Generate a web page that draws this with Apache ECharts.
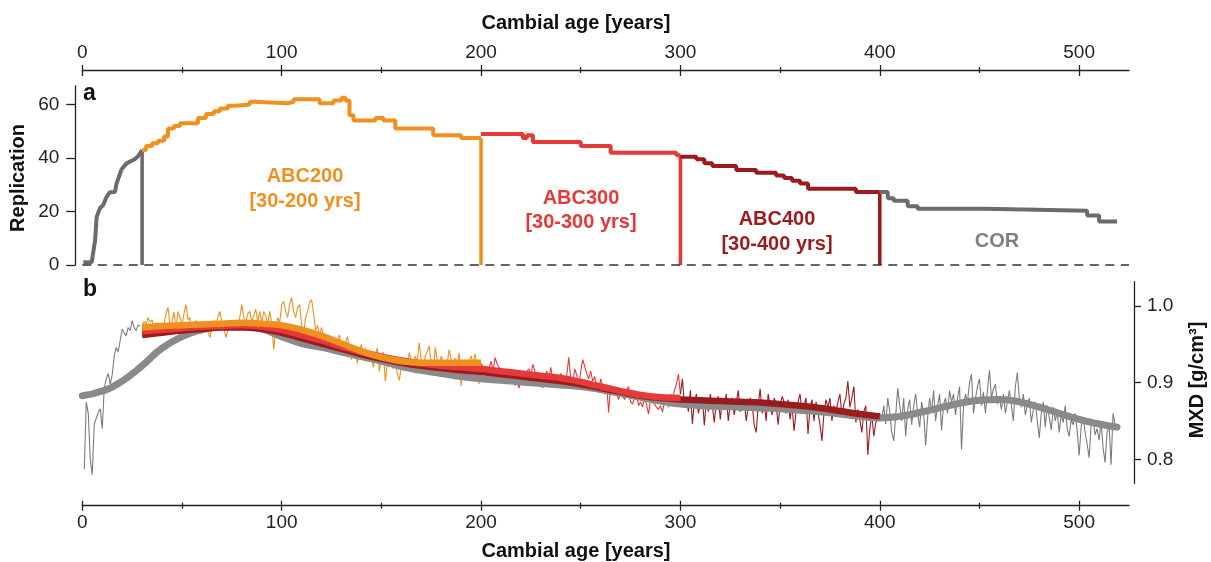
<!DOCTYPE html>
<html><head><meta charset="utf-8">
<script src="https://cdn.jsdelivr.net/npm/echarts@6/dist/echarts.min.js"></script>
<style>html,body{margin:0;padding:0;background:#fff}#c{width:1211px;height:562px}</style>
</head><body><div id="c"></div>
<script>
// ---------- tick labels ----------
const xMajorTicks = [0, 100, 200, 300, 400, 500];
const xMinorTicks = [50, 150, 250, 350, 450];
const repTicks = [0, 20, 40, 60];
const mxdTicks = [0.8, 0.9, 1.0];

// ---------- panel a: replication ----------
const corRepAYears = [0.5, 4.7, 6.4, 7.2, 8.9, 10.5, 12.2, 13.8, 16.4, 17.2, 19.7, 22.2, 24.7, 26.4, 28, 30];
const corRepAValues = [1, 1, 9, 18, 21.3, 22.4, 25.5, 27.2, 27.3, 30.5, 35.8, 38, 39, 39.6, 40.7, 43];
const abc200RepYears = [30, 32, 35, 38, 41, 43, 46, 49, 58, 62, 66, 69, 73, 77, 84, 86, 103, 106, 119, 121, 126, 130, 132, 134, 136, 147, 151, 157, 176, 190, 200];
const abc200RepValues = [43, 44.5, 45.5, 46.5, 48, 51, 52, 53, 55, 56.5, 57.5, 58.5, 59.5, 60, 61, 60.5, 61, 62, 60.5, 60.5, 61.5, 62.5, 61.5, 56, 54, 55, 54, 51, 48.5, 47.5, 47.5];
const abc300RepYears = [200, 221, 223, 226, 250, 265, 298, 300];
const abc300RepValues = [49, 47.5, 48.5, 46, 44.5, 42, 41, 41];
const abc400RepYears = [300, 308, 312, 316, 328, 338, 348, 352, 356, 360, 364, 388, 400];
const abc400RepValues = [40.5, 39.5, 38, 37, 35.5, 34.5, 33.5, 32.5, 31.5, 30.5, 28.5, 27.3, 27.3];
const corRepBYears = [400, 404, 407, 414, 419, 453, 504, 510, 519];
const corRepBValues = [27.3, 25, 24, 22, 21, 20.3, 18.5, 16.3, 16.3];

// ---------- panel b: MXD raw series (one value per year) ----------
const corRawEarlyStart = 1;
const corRawEarly = [0.787, 0.875, 0.860, 0.800, 0.780, 0.846, 0.848, 0.861, 0.866, 0.840,
  0.893, 0.905, 0.912, 0.898, 0.910, 0.935, 0.946, 0.940, 0.955, 0.970,
  0.965, 0.961, 0.972, 0.968, 0.981, 0.972, 0.968, 0.975, 0.974];
const abc200RawStart = 30;
const abc200Raw = [0.972, 0.980, 0.976, 0.985, 0.979, 0.982, 0.970, 0.978, 0.966, 0.974,
  0.963, 0.978, 0.990, 0.998, 0.975, 0.980, 0.992, 0.970, 0.993, 0.985,
  0.976, 0.990, 1.002, 0.982, 0.985, 0.963, 0.978, 0.981, 0.970, 0.980,
  0.975, 0.968, 0.974, 0.966, 0.959, 0.972, 0.981, 0.974, 0.985, 0.993,
  0.978, 0.972, 0.959, 0.968, 0.975, 0.980, 0.972, 0.968, 0.974, 0.985,
  1.002, 0.985, 0.978, 0.990, 0.993, 0.980, 0.987, 0.996, 0.980, 0.993,
  0.978, 0.993, 0.987, 0.975, 0.993, 0.978, 0.943, 0.970, 0.985, 0.978,
  1.002, 1.006, 0.993, 0.985, 1.002, 1.011, 0.993, 0.985, 0.998, 1.002,
  0.976, 0.963, 0.985, 0.993, 1.005, 1.008, 0.990, 0.968, 0.975, 0.960,
  0.972, 0.960, 0.948, 0.955, 0.962, 0.950, 0.958, 0.940, 0.955, 0.962,
  0.948, 0.935, 0.952, 0.960, 0.944, 0.930, 0.948, 0.938, 0.925, 0.942,
  0.950, 0.935, 0.945, 0.928, 0.940, 0.932, 0.920, 0.938, 0.945, 0.915,
  0.930, 0.940, 0.902, 0.925, 0.935, 0.928, 0.918, 0.930, 0.912, 0.903,
  0.920, 0.930, 0.925, 0.918, 0.939, 0.930, 0.922, 0.935, 0.928, 0.952,
  0.930, 0.920, 0.935, 0.940, 0.948, 0.925, 0.911, 0.946, 0.930, 0.920,
  0.935, 0.928, 0.915, 0.925, 0.943, 0.930, 0.920, 0.932, 0.925, 0.939,
  0.896, 0.920, 0.930, 0.918, 0.928, 0.935, 0.925, 0.938, 0.920, 0.898,
  0.925];
const abc300RawStart = 200;
const abc300Raw = [0.925, 0.924, 0.915, 0.906, 0.918, 0.928, 0.915, 0.933, 0.925, 0.920,
  0.905, 0.912, 0.898, 0.908, 0.915, 0.902, 0.910, 0.896, 0.905, 0.893,
  0.905, 0.910, 0.900, 0.915, 0.918, 0.910, 0.924, 0.915, 0.905, 0.912,
  0.900, 0.893, 0.908, 0.915, 0.905, 0.920, 0.900, 0.910, 0.898, 0.905,
  0.912, 0.905, 0.895, 0.910, 0.933, 0.905, 0.900, 0.918, 0.910, 0.895,
  0.915, 0.930, 0.930, 0.912, 0.905, 0.915, 0.902, 0.908, 0.895, 0.890,
  0.905, 0.895, 0.885, 0.898, 0.861, 0.896, 0.890, 0.893, 0.885, 0.878,
  0.888, 0.882, 0.878, 0.890, 0.895, 0.875, 0.872, 0.880, 0.885, 0.870,
  0.875, 0.868, 0.880, 0.872, 0.859, 0.878, 0.880, 0.872, 0.868, 0.865,
  0.870, 0.862, 0.875, 0.880, 0.868, 0.885, 0.878, 0.890, 0.898, 0.911,
  0.885];
const abc400RawStart = 300;
const abc400Raw = [0.885, 0.905, 0.870, 0.880, 0.862, 0.890, 0.846, 0.875, 0.885, 0.860,
  0.872, 0.880, 0.844, 0.878, 0.862, 0.885, 0.870, 0.848, 0.875, 0.882,
  0.852, 0.878, 0.870, 0.885, 0.850, 0.872, 0.880, 0.858, 0.874, 0.890,
  0.862, 0.870, 0.878, 0.850, 0.868, 0.880, 0.872, 0.845, 0.835, 0.870,
  0.892, 0.860, 0.875, 0.850, 0.885, 0.870, 0.858, 0.880, 0.872, 0.845,
  0.870, 0.882, 0.875, 0.860, 0.878, 0.852, 0.870, 0.837, 0.862, 0.875,
  0.885, 0.862, 0.870, 0.880, 0.833, 0.868, 0.878, 0.850, 0.875, 0.862,
  0.845, 0.824, 0.860, 0.878, 0.868, 0.880, 0.850, 0.870, 0.862, 0.875,
  0.885, 0.858, 0.872, 0.880, 0.902, 0.868, 0.880, 0.895, 0.848, 0.865,
  0.852, 0.835, 0.862, 0.870, 0.806, 0.840, 0.858, 0.830, 0.848, 0.850,
  0.860];
const corRawLateStart = 400;
const corRawLate = [0.860, 0.852, 0.870, 0.846, 0.880, 0.862, 0.835, 0.824, 0.858, 0.893,
  0.870, 0.850, 0.880, 0.830, 0.865, 0.878, 0.845, 0.870, 0.885, 0.860,
  0.842, 0.875, 0.860, 0.818, 0.855, 0.880, 0.862, 0.890, 0.850, 0.870,
  0.885, 0.838, 0.872, 0.880, 0.860, 0.890, 0.875, 0.885, 0.858, 0.880,
  0.895, 0.813, 0.870, 0.885, 0.875, 0.900, 0.911, 0.860, 0.880, 0.895,
  0.905, 0.870, 0.888, 0.860, 0.890, 0.916, 0.880, 0.892, 0.898, 0.872,
  0.880, 0.865, 0.885, 0.860, 0.875, 0.890, 0.870, 0.850, 0.895, 0.913,
  0.880, 0.868, 0.885, 0.858, 0.870, 0.880, 0.848, 0.865, 0.875, 0.850,
  0.828, 0.860, 0.875, 0.842, 0.870, 0.855, 0.838, 0.868, 0.850, 0.862,
  0.835, 0.858, 0.848, 0.870, 0.840, 0.830, 0.852, 0.845, 0.860, 0.838,
  0.805, 0.842, 0.855, 0.835, 0.820, 0.802, 0.845, 0.850, 0.832, 0.840,
  0.825, 0.848, 0.815, 0.796, 0.835, 0.845, 0.793, 0.860, 0.845, 0.838];

// ---------- panel b: smoothed curves ----------
const corFitYears = [0, 10, 20, 30, 40, 50, 60, 70, 80, 90, 100, 110, 120, 130, 140, 150, 160, 170, 180, 190, 200, 210, 220, 230, 240, 250, 260, 270, 280, 290, 300, 310, 320, 330, 340, 350, 360, 370, 380, 390, 400, 410, 420, 430, 440, 450, 460, 470, 480, 490, 500, 510, 519];
const corFit = [0.883, 0.889, 0.902, 0.922, 0.945, 0.960, 0.969, 0.974, 0.975, 0.970, 0.960, 0.951, 0.946, 0.940, 0.934, 0.928, 0.921, 0.916, 0.912, 0.908, 0.905, 0.903, 0.901, 0.899, 0.897, 0.895, 0.891, 0.886, 0.881, 0.876, 0.872, 0.870, 0.869, 0.868, 0.867, 0.866, 0.864, 0.862, 0.859, 0.856, 0.854, 0.856, 0.861, 0.867, 0.873, 0.877, 0.878, 0.875, 0.868, 0.860, 0.852, 0.846, 0.842];
const abc400FitYears = [30, 40, 50, 60, 70, 80, 90, 100, 110, 120, 130, 140, 150, 160, 170, 180, 190, 200, 210, 220, 230, 240, 250, 260, 270, 280, 290, 300, 310, 320, 330, 340, 350, 360, 370, 380, 390, 400];
const abc400Fit = [0.962, 0.965, 0.968, 0.970, 0.972, 0.972, 0.970, 0.965, 0.958, 0.951, 0.944, 0.937, 0.931, 0.926, 0.922, 0.919, 0.916, 0.914, 0.911, 0.908, 0.905, 0.902, 0.898, 0.893, 0.888, 0.883, 0.880, 0.878, 0.877, 0.876, 0.875, 0.874, 0.872, 0.870, 0.867, 0.863, 0.859, 0.856];
const abc300FitYears = [30, 40, 50, 60, 70, 80, 90, 100, 110, 120, 130, 140, 150, 160, 170, 180, 190, 200, 210, 220, 230, 240, 250, 260, 270, 280, 290, 300];
const abc300Fit = [0.967, 0.969, 0.971, 0.973, 0.974, 0.975, 0.973, 0.969, 0.962, 0.955, 0.947, 0.940, 0.934, 0.929, 0.925, 0.922, 0.920, 0.918, 0.915, 0.912, 0.909, 0.906, 0.901, 0.895, 0.889, 0.884, 0.881, 0.880];
const abc200FitYears = [30, 40, 50, 60, 70, 80, 90, 100, 110, 120, 130, 140, 150, 160, 170, 180, 190, 200];
const abc200Fit = [0.972, 0.974, 0.975, 0.976, 0.977, 0.978, 0.977, 0.975, 0.969, 0.961, 0.951, 0.941, 0.933, 0.928, 0.926, 0.926, 0.926, 0.926];

// ---------- styling ----------
const FONT = "'Liberation Sans', Arial, Helvetica, sans-serif";
const AX = '#222222';
const C_GRAY = '#6b6b6b';
const C_OR = '#f0901e';
const C_RED = '#e63a3a';
const C_DRED = '#9b1b1e';
const C_GRAY_FIT = '#8a8a8a';
const C_GRAY_RAW = '#7c7c7c';

const G0 = {left: 82.3, top: 85.8, width: 1046.7, height: 179.2};
const G1 = {left: 82.3, top: 281.7, width: 1046.7, height: 201.6};

function pairs(xs, ys) { return xs.map((x, i) => [x, ys[i]]); }
function yearly(start, vals) { return vals.map((v, i) => [start + i, v]); }

function xAxes(gridIndex, position, offset, outLen, inLen) {
  const base = {type: 'value', gridIndex, position, offset, min: 0, max: 525,
    splitLine: {show: false}, axisLine: {show: false, onZero: false},
    axisLabel: {show: false}, axisTick: {show: false}};
  const ls = {color: AX, width: 1.3};
  return [
    Object.assign({}, base, {
      axisLine: {show: true, onZero: false, lineStyle: ls},
      axisTick: {show: true, inside: false, length: outLen, customValues: xMajorTicks, lineStyle: ls},
      axisLabel: {show: true, customValues: xMajorTicks, fontSize: 19, color: AX, fontFamily: FONT, margin: 8}
    }),
    Object.assign({}, base, {axisTick: {show: true, inside: true, length: inLen, customValues: xMajorTicks, lineStyle: ls}}),
    Object.assign({}, base, {axisTick: {show: true, inside: false, length: 3, customValues: xMinorTicks, lineStyle: ls}}),
    Object.assign({}, base, {axisTick: {show: true, inside: true, length: 3, customValues: xMinorTicks, lineStyle: ls}})
  ];
}

const xAxis = [].concat(xAxes(0, 'top', 85.8 - 70, 5, 6), xAxes(1, 'bottom', 505.7 - 483.3, 5, 5));

const yAxis = [
  {type: 'value', gridIndex: 0, position: 'left', offset: 7, min: 0, max: 67,
    splitLine: {show: false},
    axisLine: {show: true, onZero: false, lineStyle: {color: AX, width: 1.3}},
    axisTick: {show: true, length: 9, customValues: repTicks, lineStyle: {color: AX, width: 1.3}},
    axisLabel: {customValues: repTicks, fontSize: 19, color: AX, fontFamily: FONT, margin: 16}},
  {type: 'value', gridIndex: 1, position: 'right', offset: 5, min: 0.7687, max: 1.0317,
    splitLine: {show: false},
    axisLine: {show: true, onZero: false, lineStyle: {color: AX, width: 1.3}},
    axisTick: {show: true, length: 7, customValues: mxdTicks, lineStyle: {color: AX, width: 1.3}},
    axisLabel: {customValues: mxdTicks, fontSize: 19, color: AX, fontFamily: FONT, margin: 13,
      formatter: v => v.toFixed(1)}}
];

function stepLine(xs, ys, color, noStep) {
  return {type: 'line', xAxisIndex: 0, yAxisIndex: 0, step: noStep ? false : 'end', symbol: 'none',
    data: pairs(xs, ys), lineStyle: {color, width: 4}, z: 3};
}
function vLine(xs, ys, color) {
  const x = xs[xs.length - 1], top = ys[ys.length - 1];
  return {type: 'line', xAxisIndex: 0, yAxisIndex: 0, symbol: 'none',
    data: [[x, 0], [x, top]], lineStyle: {color, width: 3.6}, z: 3};
}
function rawLine(start, vals, color) {
  return {type: 'line', xAxisIndex: 4, yAxisIndex: 1, symbol: 'none',
    data: yearly(start, vals), lineStyle: {color, width: 1.1}, z: 2};
}
function fitLine(xs, ys, color, width, cap) {
  return {type: 'line', xAxisIndex: 4, yAxisIndex: 1, symbol: 'none', smooth: 0.5,
    data: pairs(xs, ys), lineStyle: {color, width, cap: cap || 'butt'}, z: 4};
}

const series = [
  {type: 'line', xAxisIndex: 0, yAxisIndex: 0, symbol: 'none', data: [],
    markLine: {symbol: 'none', silent: true, animation: false, label: {show: false},
      lineStyle: {type: [9, 6.5], color: '#333', width: 1.5}, data: [{yAxis: 0}]}},
  stepLine(corRepAYears, corRepAValues, C_GRAY, true),
  vLine(corRepAYears, corRepAValues, C_GRAY),
  stepLine(abc200RepYears, abc200RepValues, C_OR),
  vLine(abc200RepYears, abc200RepValues, C_OR),
  stepLine(abc300RepYears, abc300RepValues, C_RED),
  vLine(abc300RepYears, abc300RepValues, C_RED),
  stepLine(abc400RepYears, abc400RepValues, C_DRED),
  vLine(abc400RepYears, abc400RepValues, C_DRED),
  stepLine(corRepBYears, corRepBValues, C_GRAY),
  rawLine(corRawEarlyStart, corRawEarly, C_GRAY_RAW),
  rawLine(abc200RawStart, abc200Raw, C_OR),
  rawLine(abc300RawStart, abc300Raw, C_RED),
  rawLine(abc400RawStart, abc400Raw, C_DRED),
  rawLine(corRawLateStart, corRawLate, C_GRAY_RAW),
  fitLine(corFitYears, corFit, C_GRAY_FIT, 7, 'round'),
  fitLine(abc400FitYears, abc400Fit, C_DRED, 6.5),
  fitLine(abc300FitYears, abc300Fit, C_RED, 6.5),
  fitLine(abc200FitYears, abc200Fit, C_OR, 6.5)
];

function txt(x, y, text, font, fill, rot) {
  return {type: 'text', x, y, rotation: rot || 0, silent: true,
    style: {text, font, fill, align: 'center', verticalAlign: 'middle'}};
}
const BOLD20 = 'bold 20px ' + FONT;
const graphic = [
  txt(576, 23, 'Cambial age [years]', BOLD20, '#111'),
  txt(576, 551, 'Cambial age [years]', BOLD20, '#111'),
  txt(18, 178, 'Replication', BOLD20, '#111', Math.PI / 2),
  txt(1197, 380, 'MXD [g/cm³]', BOLD20, '#111', Math.PI / 2),
  {type: 'text', x: 83, y: 94, silent: true, style: {text: 'a', font: 'bold 23px ' + FONT, fill: '#111', align: 'left', verticalAlign: 'middle'}},
  {type: 'text', x: 83, y: 290, silent: true, style: {text: 'b', font: 'bold 23px ' + FONT, fill: '#111', align: 'left', verticalAlign: 'middle'}},
  txt(305, 176, 'ABC200', BOLD20, C_OR),
  txt(305, 201, '[30-200 yrs]', BOLD20, C_OR),
  txt(581, 198, 'ABC300', BOLD20, C_RED),
  txt(581, 222, '[30-300 yrs]', BOLD20, C_RED),
  txt(777, 219, 'ABC400', BOLD20, C_DRED),
  txt(777, 244, '[30-400 yrs]', BOLD20, C_DRED),
  txt(997, 241, 'COR', BOLD20, '#808080')
];

const chart = echarts.init(document.getElementById('c'), null, {renderer: 'canvas'});
chart.setOption({
  animation: false,
  backgroundColor: '#ffffff',
  grid: [Object.assign({containLabel: false}, G0), Object.assign({containLabel: false}, G1)],
  xAxis, yAxis, series, graphic
});
</script></body></html>
